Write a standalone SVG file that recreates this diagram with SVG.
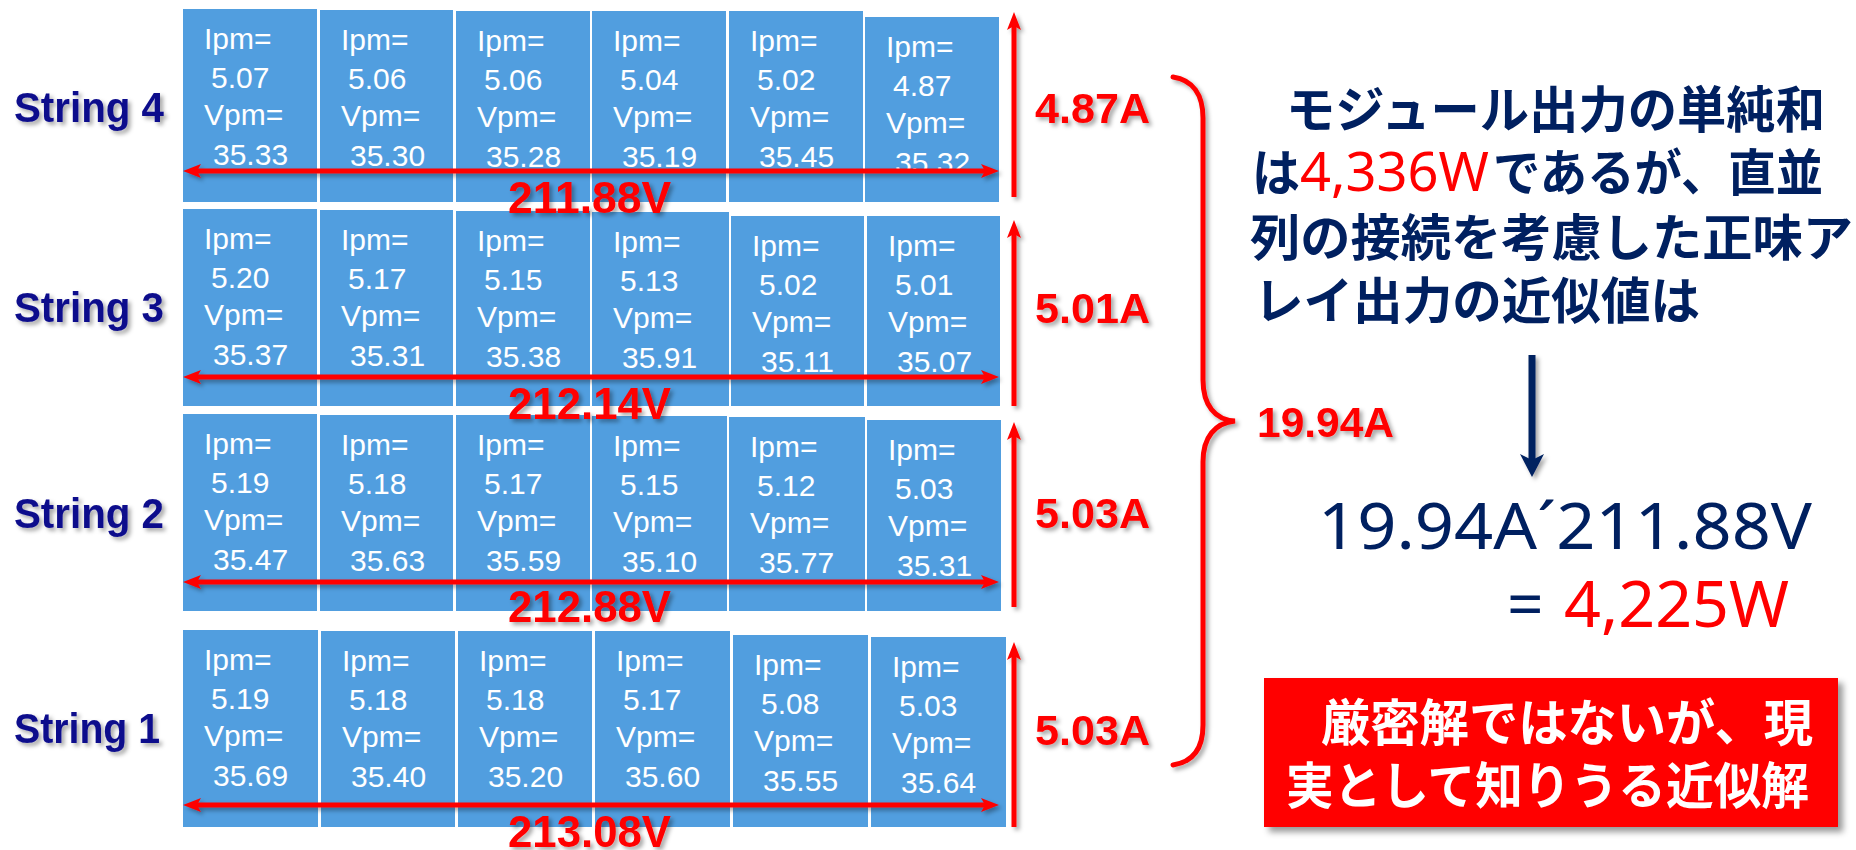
<svg xmlns="http://www.w3.org/2000/svg" width="1856" height="850" viewBox="0 0 1856 850">
<defs>
<filter id="sh" filterUnits="userSpaceOnUse" x="0" y="0" width="1856" height="850">
<feDropShadow dx="3" dy="3" stdDeviation="2" flood-color="#000" flood-opacity="0.35"/>
</filter>
<filter id="shb" filterUnits="userSpaceOnUse" x="0" y="0" width="1856" height="850">
<feDropShadow dx="5" dy="5" stdDeviation="3" flood-color="#000" flood-opacity="0.4"/>
</filter>
<marker id="ra" markerUnits="userSpaceOnUse" markerWidth="18" markerHeight="14" refX="4" refY="7" orient="auto-start-reverse">
<path d="M0,0 L18,7 L0,14 L4,7 Z" fill="#FF0000"/>
</marker>
<marker id="na" markerUnits="userSpaceOnUse" markerWidth="24" markerHeight="24" refX="6" refY="12" orient="auto">
<path d="M0,0 L23,12 L0,24 L6,12 Z" fill="#002060"/>
</marker>
</defs>
<style>
.mod rect{fill:#519EDF}
.mod text{font-family:"Liberation Sans",Arial,sans-serif;font-size:30px;fill:#FFFFFF}
.lbl{font-family:"Liberation Sans",Arial,sans-serif;font-weight:bold;font-size:42px;fill:#0B0B8C}
.cur{font-family:"Liberation Sans",Arial,sans-serif;font-weight:bold;font-size:42px;fill:#FF0000}
.volt{font-family:"Liberation Sans",Arial,sans-serif;font-weight:bold;font-size:44px;fill:#FF0000}
.jp{font-family:"Noto Sans CJK JP","Noto Sans CJK SC",sans-serif;font-weight:bold;font-size:50px;fill:#002060}
.num{font-family:"Noto Sans","Liberation Sans",sans-serif;font-size:64px;fill:#002060}
.red{fill:#FF0000}
.wj{font-family:"Noto Sans CJK JP","Noto Sans CJK SC",sans-serif;font-weight:bold;font-size:50px;fill:#FFFFFF}
.ha{stroke:#FF0000;stroke-width:5;fill:none}
</style>

<g id="string-labels" filter="url(#sh)">
<text id="label-s4" class="lbl" x="14" y="122" textLength="150" lengthAdjust="spacingAndGlyphs">String 4</text>
<text id="label-s3" class="lbl" x="14" y="322" textLength="150" lengthAdjust="spacingAndGlyphs">String 3</text>
<text id="label-s2" class="lbl" x="14" y="528" textLength="150" lengthAdjust="spacingAndGlyphs">String 2</text>
<text id="label-s1" class="lbl" x="14" y="743" textLength="146" lengthAdjust="spacingAndGlyphs">String 1</text>
</g>

<!-- String 4 -->
<g id="m-s4-1" class="mod"><rect x="183" y="9" width="134" height="193"/><text x="204" y="49">Ipm=</text><text x="211" y="88">5.07</text><text x="204" y="125">Vpm=</text><text x="213" y="165">35.33</text></g>
<g id="m-s4-2" class="mod"><rect x="320" y="10" width="133" height="192"/><text x="341" y="50">Ipm=</text><text x="348" y="89">5.06</text><text x="341" y="126">Vpm=</text><text x="350" y="166">35.30</text></g>
<g id="m-s4-3" class="mod"><rect x="456" y="11" width="134" height="191"/><text x="477" y="51">Ipm=</text><text x="484" y="90">5.06</text><text x="477" y="127">Vpm=</text><text x="486" y="167">35.28</text></g>
<g id="m-s4-4" class="mod"><rect x="592" y="11" width="134" height="191"/><text x="613" y="51">Ipm=</text><text x="620" y="90">5.04</text><text x="613" y="127">Vpm=</text><text x="622" y="167">35.19</text></g>
<g id="m-s4-5" class="mod"><rect x="729" y="11" width="134" height="191"/><text x="750" y="51">Ipm=</text><text x="757" y="90">5.02</text><text x="750" y="127">Vpm=</text><text x="759" y="167">35.45</text></g>
<g id="m-s4-6" class="mod"><rect x="865" y="17" width="134" height="185"/><text x="886" y="57">Ipm=</text><text x="893" y="96">4.87</text><text x="886" y="133">Vpm=</text><text x="895" y="173">35.32</text></g>

<!-- String 3 -->
<g id="m-s3-1" class="mod"><rect x="183" y="209" width="134" height="197"/><text x="204" y="249">Ipm=</text><text x="211" y="288">5.20</text><text x="204" y="325">Vpm=</text><text x="213" y="365">35.37</text></g>
<g id="m-s3-2" class="mod"><rect x="320" y="210" width="133" height="196"/><text x="341" y="250">Ipm=</text><text x="348" y="289">5.17</text><text x="341" y="326">Vpm=</text><text x="350" y="366">35.31</text></g>
<g id="m-s3-3" class="mod"><rect x="456" y="211" width="134" height="195"/><text x="477" y="251">Ipm=</text><text x="484" y="290">5.15</text><text x="477" y="327">Vpm=</text><text x="486" y="367">35.38</text></g>
<g id="m-s3-4" class="mod"><rect x="592" y="212" width="137" height="194"/><text x="613" y="252">Ipm=</text><text x="620" y="291">5.13</text><text x="613" y="328">Vpm=</text><text x="622" y="368">35.91</text></g>
<g id="m-s3-5" class="mod"><rect x="731" y="216" width="133" height="190"/><text x="752" y="256">Ipm=</text><text x="759" y="295">5.02</text><text x="752" y="332">Vpm=</text><text x="761" y="372">35.11</text></g>
<g id="m-s3-6" class="mod"><rect x="867" y="216" width="133" height="190"/><text x="888" y="256">Ipm=</text><text x="895" y="295">5.01</text><text x="888" y="332">Vpm=</text><text x="897" y="372">35.07</text></g>

<!-- String 2 -->
<g id="m-s2-1" class="mod"><rect x="183" y="414" width="134" height="197"/><text x="204" y="454">Ipm=</text><text x="211" y="493">5.19</text><text x="204" y="530">Vpm=</text><text x="213" y="570">35.47</text></g>
<g id="m-s2-2" class="mod"><rect x="320" y="415" width="133" height="196"/><text x="341" y="455">Ipm=</text><text x="348" y="494">5.18</text><text x="341" y="531">Vpm=</text><text x="350" y="571">35.63</text></g>
<g id="m-s2-3" class="mod"><rect x="456" y="415" width="134" height="196"/><text x="477" y="455">Ipm=</text><text x="484" y="494">5.17</text><text x="477" y="531">Vpm=</text><text x="486" y="571">35.59</text></g>
<g id="m-s2-4" class="mod"><rect x="592" y="416" width="135" height="195"/><text x="613" y="456">Ipm=</text><text x="620" y="495">5.15</text><text x="613" y="532">Vpm=</text><text x="622" y="572">35.10</text></g>
<g id="m-s2-5" class="mod"><rect x="729" y="417" width="136" height="194"/><text x="750" y="457">Ipm=</text><text x="757" y="496">5.12</text><text x="750" y="533">Vpm=</text><text x="759" y="573">35.77</text></g>
<g id="m-s2-6" class="mod"><rect x="867" y="420" width="134" height="191"/><text x="888" y="460">Ipm=</text><text x="895" y="499">5.03</text><text x="888" y="536">Vpm=</text><text x="897" y="576">35.31</text></g>

<!-- String 1 -->
<g id="m-s1-1" class="mod"><rect x="183" y="630" width="135" height="197"/><text x="204" y="670">Ipm=</text><text x="211" y="709">5.19</text><text x="204" y="746">Vpm=</text><text x="213" y="786">35.69</text></g>
<g id="m-s1-2" class="mod"><rect x="321" y="631" width="134" height="196"/><text x="342" y="671">Ipm=</text><text x="349" y="710">5.18</text><text x="342" y="747">Vpm=</text><text x="351" y="787">35.40</text></g>
<g id="m-s1-3" class="mod"><rect x="458" y="631" width="134" height="196"/><text x="479" y="671">Ipm=</text><text x="486" y="710">5.18</text><text x="479" y="747">Vpm=</text><text x="488" y="787">35.20</text></g>
<g id="m-s1-4" class="mod"><rect x="595" y="631" width="135" height="196"/><text x="616" y="671">Ipm=</text><text x="623" y="710">5.17</text><text x="616" y="747">Vpm=</text><text x="625" y="787">35.60</text></g>
<g id="m-s1-5" class="mod"><rect x="733" y="635" width="135" height="192"/><text x="754" y="675">Ipm=</text><text x="761" y="714">5.08</text><text x="754" y="751">Vpm=</text><text x="763" y="791">35.55</text></g>
<g id="m-s1-6" class="mod"><rect x="871" y="637" width="135" height="190"/><text x="892" y="677">Ipm=</text><text x="899" y="716">5.03</text><text x="892" y="753">Vpm=</text><text x="901" y="793">35.64</text></g>

<g id="connectors" filter="url(#sh)">
<line class="ha" x1="197" y1="171" x2="985" y2="171" marker-start="url(#ra)" marker-end="url(#ra)"/>
<line class="ha" x1="197" y1="377" x2="985" y2="377" marker-start="url(#ra)" marker-end="url(#ra)"/>
<line class="ha" x1="197" y1="582" x2="985" y2="582" marker-start="url(#ra)" marker-end="url(#ra)"/>
<line class="ha" x1="197" y1="805" x2="985" y2="805" marker-start="url(#ra)" marker-end="url(#ra)"/>
<line class="ha" x1="1014" y1="197" x2="1014" y2="26" marker-end="url(#ra)"/>
<line class="ha" x1="1014" y1="406" x2="1014" y2="234" marker-end="url(#ra)"/>
<line class="ha" x1="1014" y1="607" x2="1014" y2="436" marker-end="url(#ra)"/>
<line class="ha" x1="1014" y1="827" x2="1014" y2="656" marker-end="url(#ra)"/>
<path id="brace" class="ha" stroke-linecap="round" d="M1173,77 C1193,80 1203,95 1203,118 L1203,380 C1203,405 1215,420 1235,421 C1215,423 1203,437 1203,462 L1203,725 C1203,748 1193,762 1173,765"/>
<line x1="1532" y1="355" x2="1532" y2="460" stroke="#002060" stroke-width="7" marker-end="url(#na)"/>
</g>

<g id="voltage-labels" filter="url(#sh)">
<text class="volt" x="508" y="213" textLength="163" lengthAdjust="spacingAndGlyphs">211.88V</text>
<text class="volt" x="508" y="419" textLength="163" lengthAdjust="spacingAndGlyphs">212.14V</text>
<text class="volt" x="508" y="622" textLength="163" lengthAdjust="spacingAndGlyphs">212.88V</text>
<text class="volt" x="508" y="847" textLength="163" lengthAdjust="spacingAndGlyphs">213.08V</text>
</g>

<g id="current-labels" filter="url(#sh)">
<text class="cur" x="1035" y="123" textLength="115" lengthAdjust="spacingAndGlyphs">4.87A</text>
<text class="cur" x="1035" y="323" textLength="115" lengthAdjust="spacingAndGlyphs">5.01A</text>
<text class="cur" x="1035" y="528" textLength="115" lengthAdjust="spacingAndGlyphs">5.03A</text>
<text class="cur" x="1035" y="745" textLength="115" lengthAdjust="spacingAndGlyphs">5.03A</text>
<text id="total-current" class="cur" x="1257" y="437" textLength="137" lengthAdjust="spacingAndGlyphs">19.94A</text>
</g>

<g id="explanation">
<text class="jp" x="1286" y="128" textLength="539" lengthAdjust="spacingAndGlyphs">モジュール出力の単純和</text>
<text class="jp" x="1252" y="191" textLength="48" lengthAdjust="spacingAndGlyphs">は</text>
<text class="num red" x="1300" y="191" style="font-size:54px" textLength="189" lengthAdjust="spacingAndGlyphs">4,336W</text>
<text class="jp" x="1493" y="191" textLength="330" lengthAdjust="spacingAndGlyphs">であるが、直並</text>
<text class="jp" x="1250" y="256" textLength="603" lengthAdjust="spacingAndGlyphs">列の接続を考慮した正味ア</text>
<text class="jp" x="1254" y="319" textLength="446" lengthAdjust="spacingAndGlyphs">レイ出力の近似値は</text>
</g>

<g id="formula">
<text class="num" x="1318" y="549" textLength="494" lengthAdjust="spacingAndGlyphs">19.94A´211.88V</text>
<text class="num" x="1507" y="627">=</text>
<text class="num red" x="1564" y="627" textLength="225" lengthAdjust="spacingAndGlyphs">4,225W</text>
</g>

<g id="conclusion">
<rect x="1264" y="678" width="574" height="149" fill="#FF0000" filter="url(#shb)"/>
<text class="wj" x="1321" y="741" textLength="492" lengthAdjust="spacingAndGlyphs">厳密解ではないが、現</text>
<text class="wj" x="1286" y="804" textLength="523" lengthAdjust="spacingAndGlyphs">実として知りうる近似解</text>
</g>
</svg>
